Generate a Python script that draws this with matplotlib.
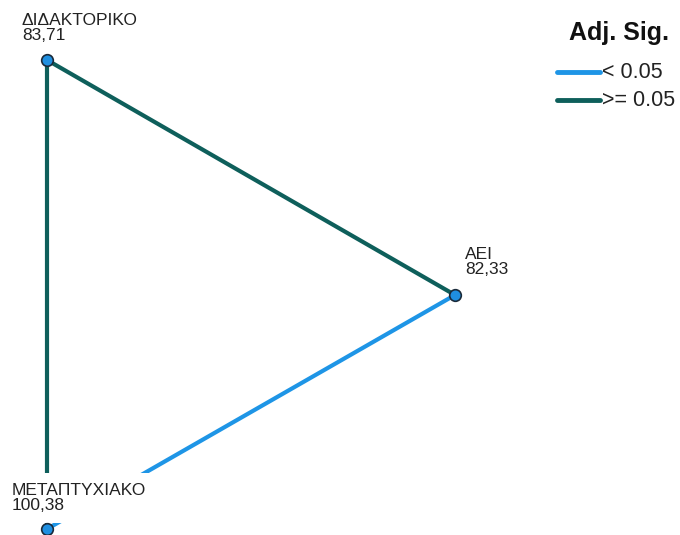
import matplotlib
matplotlib.use("Agg")
import matplotlib.pyplot as plt

plt.rcParams['font.family'] = ['Liberation Sans', 'DejaVu Sans']

# nodes: education level and mean rank
nodes = ["ΔΙΔΑΚΤΟΡΙΚΟ", "ΑΕΙ", "ΜΕΤΑΠΤΥΧΙΑΚΟ"]
mean_rank = [83.71, 82.33, 100.38]

# pairwise comparisons (node index pairs) and whether adj. sig. < 0.05
edges = [(0, 1), (0, 2), (1, 2)]
significant = [False, False, True]

# layout in pixel space
node_x = [47, 455, 47]
node_y = [60, 295, 529]
label_dx = [-25, 10, -35]
label_dy = [-17, -18, -16]

blue = "#1e95e6"
green = "#0e5f5b"

fig = plt.figure(figsize=(6.8, 5.35), dpi=100)
ax = fig.add_axes([0, 0, 1, 1])
ax.set_xlim(0, 680)
ax.set_ylim(535, 0)
ax.axis("off")

for (a, b), sig in zip(edges, significant):
    ax.plot([node_x[a], node_x[b]], [node_y[a], node_y[b]],
            color=blue if sig else green, lw=3, solid_capstyle="butt", zorder=1)

for i, name in enumerate(nodes):
    txt = "%s\n%s" % (name, ("%.2f" % mean_rank[i]).replace(".", ","))
    ax.text(node_x[i] + label_dx[i], node_y[i] + label_dy[i], txt,
            ha="left", va="bottom", fontsize=12.5, linespacing=1.0, color="#222222",
            bbox=dict(facecolor="white", edgecolor="none", pad=7), zorder=2)

ax.scatter(node_x, node_y, s=70, color="#1f8fe0", edgecolors="#1a2a3a",
           linewidths=1.2, zorder=3, clip_on=False)

# legend
ax.text(619, 33, "Adj. Sig.", ha="center", va="center", fontsize=18,
        fontweight="bold", color="#111111")
legend_labels = ["< 0.05", ">= 0.05"]
legend_colors = [blue, green]
for k, (lab, col) in enumerate(zip(legend_labels, legend_colors)):
    y = 72 + 28 * k
    ax.plot([557, 600], [y, y], color=col, lw=3.5, solid_capstyle="round")
    ax.text(602, y, lab, ha="left", va="center", fontsize=15.5, color="#222222")

fig.savefig("out.png", dpi=100)
